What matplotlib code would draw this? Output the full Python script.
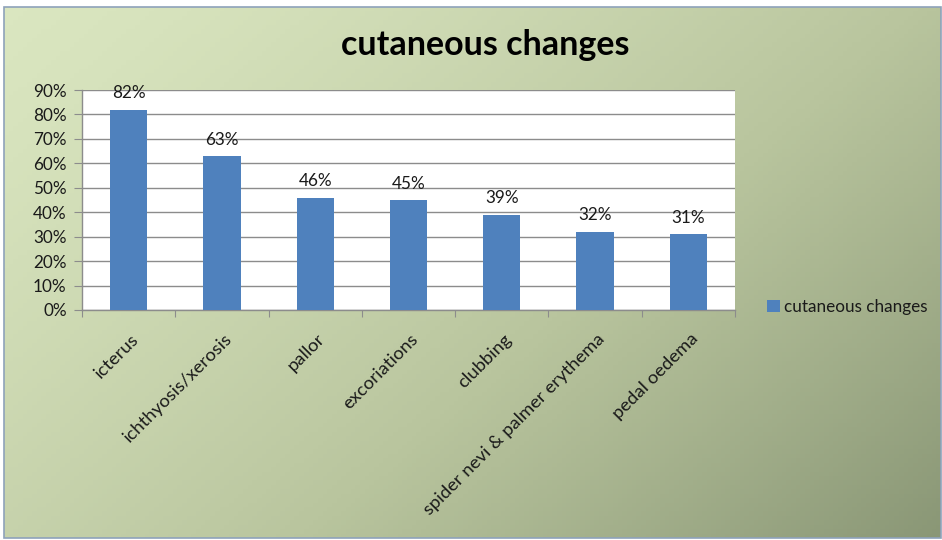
import numpy as np
import matplotlib
matplotlib.use("Agg")
import matplotlib.pyplot as plt
from matplotlib.patches import Rectangle
from matplotlib.colors import LinearSegmentedColormap

categories = ["icterus", "ichthyosis/xerosis", "pallor", "excoriations", "clubbing",
              "spider nevi & palmer erythema", "pedal oedema"]
values = [82, 63, 46, 45, 39, 32, 31]
yticks = [0, 10, 20, 30, 40, 50, 60, 70, 80, 90]
series_name = "cutaneous changes"
title = "cutaneous changes"

W, H = 942, 540
plt.rcParams['font.family'] = ['Lato', 'DejaVu Sans']
fig = plt.figure(figsize=(W / 100, H / 100), dpi=100)
fig.patch.set_facecolor("white")

FS = 12.3

# background gradient
bg = fig.add_axes([4 / W, 1 - 538 / H, (941 - 4) / W, (538 - 7) / H])
bg.set_axis_off()
nx, ny = 200, 120
xx, yy = np.meshgrid(np.linspace(0, 1, nx), np.linspace(0, 1, ny))
t = (xx * 0.6 + yy * 0.4)
t = np.clip(t, 0, 1) ** 1.3
cmap = LinearSegmentedColormap.from_list("g", ["#dae6c0", "#b9c59e", "#8a9776"])
bg.imshow(t, cmap=cmap, aspect="auto", extent=[0, 1, 0, 1], origin="upper", vmin=0, vmax=1)
bg.add_patch(Rectangle((0, 0), 1, 1, transform=bg.transAxes, fill=False,
                       edgecolor="#8ea2ba", lw=1.2, clip_on=False))
bg.set_xlim(0, 1); bg.set_ylim(0, 1)

# main plot area
left, right, top, bottom = 82, 735, 90, 310
ax = fig.add_axes([left / W, 1 - bottom / H, (right - left) / W, (bottom - top) / H])
ax.set_facecolor("white")
x = np.arange(len(categories))
bars = ax.bar(x, values, width=0.4, color="#4f81bd", zorder=3, label=series_name)
ax.set_xlim(-0.5, len(categories) - 0.5)
ax.set_ylim(0, 90)
ax.set_yticks(yticks)
ax.set_yticklabels([f"{v}%" for v in yticks], fontsize=FS, color="#1a1a1a")
ax.yaxis.grid(True, color="#8c8c8c", lw=1, zorder=0)
ax.set_axisbelow(True)
ax.set_xticks(np.arange(len(categories) + 1) - 0.5)
ax.set_xticklabels([])
ax.set_xticks(x + 0.02, minor=True)
ax.set_xticklabels(categories, minor=True, rotation=45, ha="right",
                   rotation_mode="anchor", fontsize=13.3, color="#1a1a1a")
ax.tick_params(axis="x", which="minor", length=0, pad=15)
ax.tick_params(axis="x", which="major", length=5, color="#8c8c8c", direction="out")
ax.tick_params(axis="y", length=6, color="#8c8c8c", direction="out", pad=5)
for s in ["top", "right"]:
    ax.spines[s].set_visible(False)
for s in ["left", "bottom"]:
    ax.spines[s].set_color("#8c8c8c")
    ax.spines[s].set_linewidth(1)

for xi, v in zip(x, values):
    ax.annotate(f"{v}%", (xi, v), xytext=(0, 6), textcoords="offset points",
                ha="center", va="bottom", fontsize=FS, color="#1a1a1a")

fig.text(485 / W, 1 - 45 / H, title, ha="center", va="center", fontsize=24.5,
         fontweight="bold", color="black")

leg = fig.legend(handles=[bars], labels=[series_name], loc="center left",
                 bbox_to_anchor=(760 / W, 1 - 307 / H), frameon=False, fontsize=FS,
                 handlelength=0.75, handleheight=0.75, handletextpad=0.25, borderaxespad=0)
for txt in leg.get_texts():
    txt.set_color("#1a1a1a")

fig.savefig("out.png", dpi=100, facecolor=fig.get_facecolor())
